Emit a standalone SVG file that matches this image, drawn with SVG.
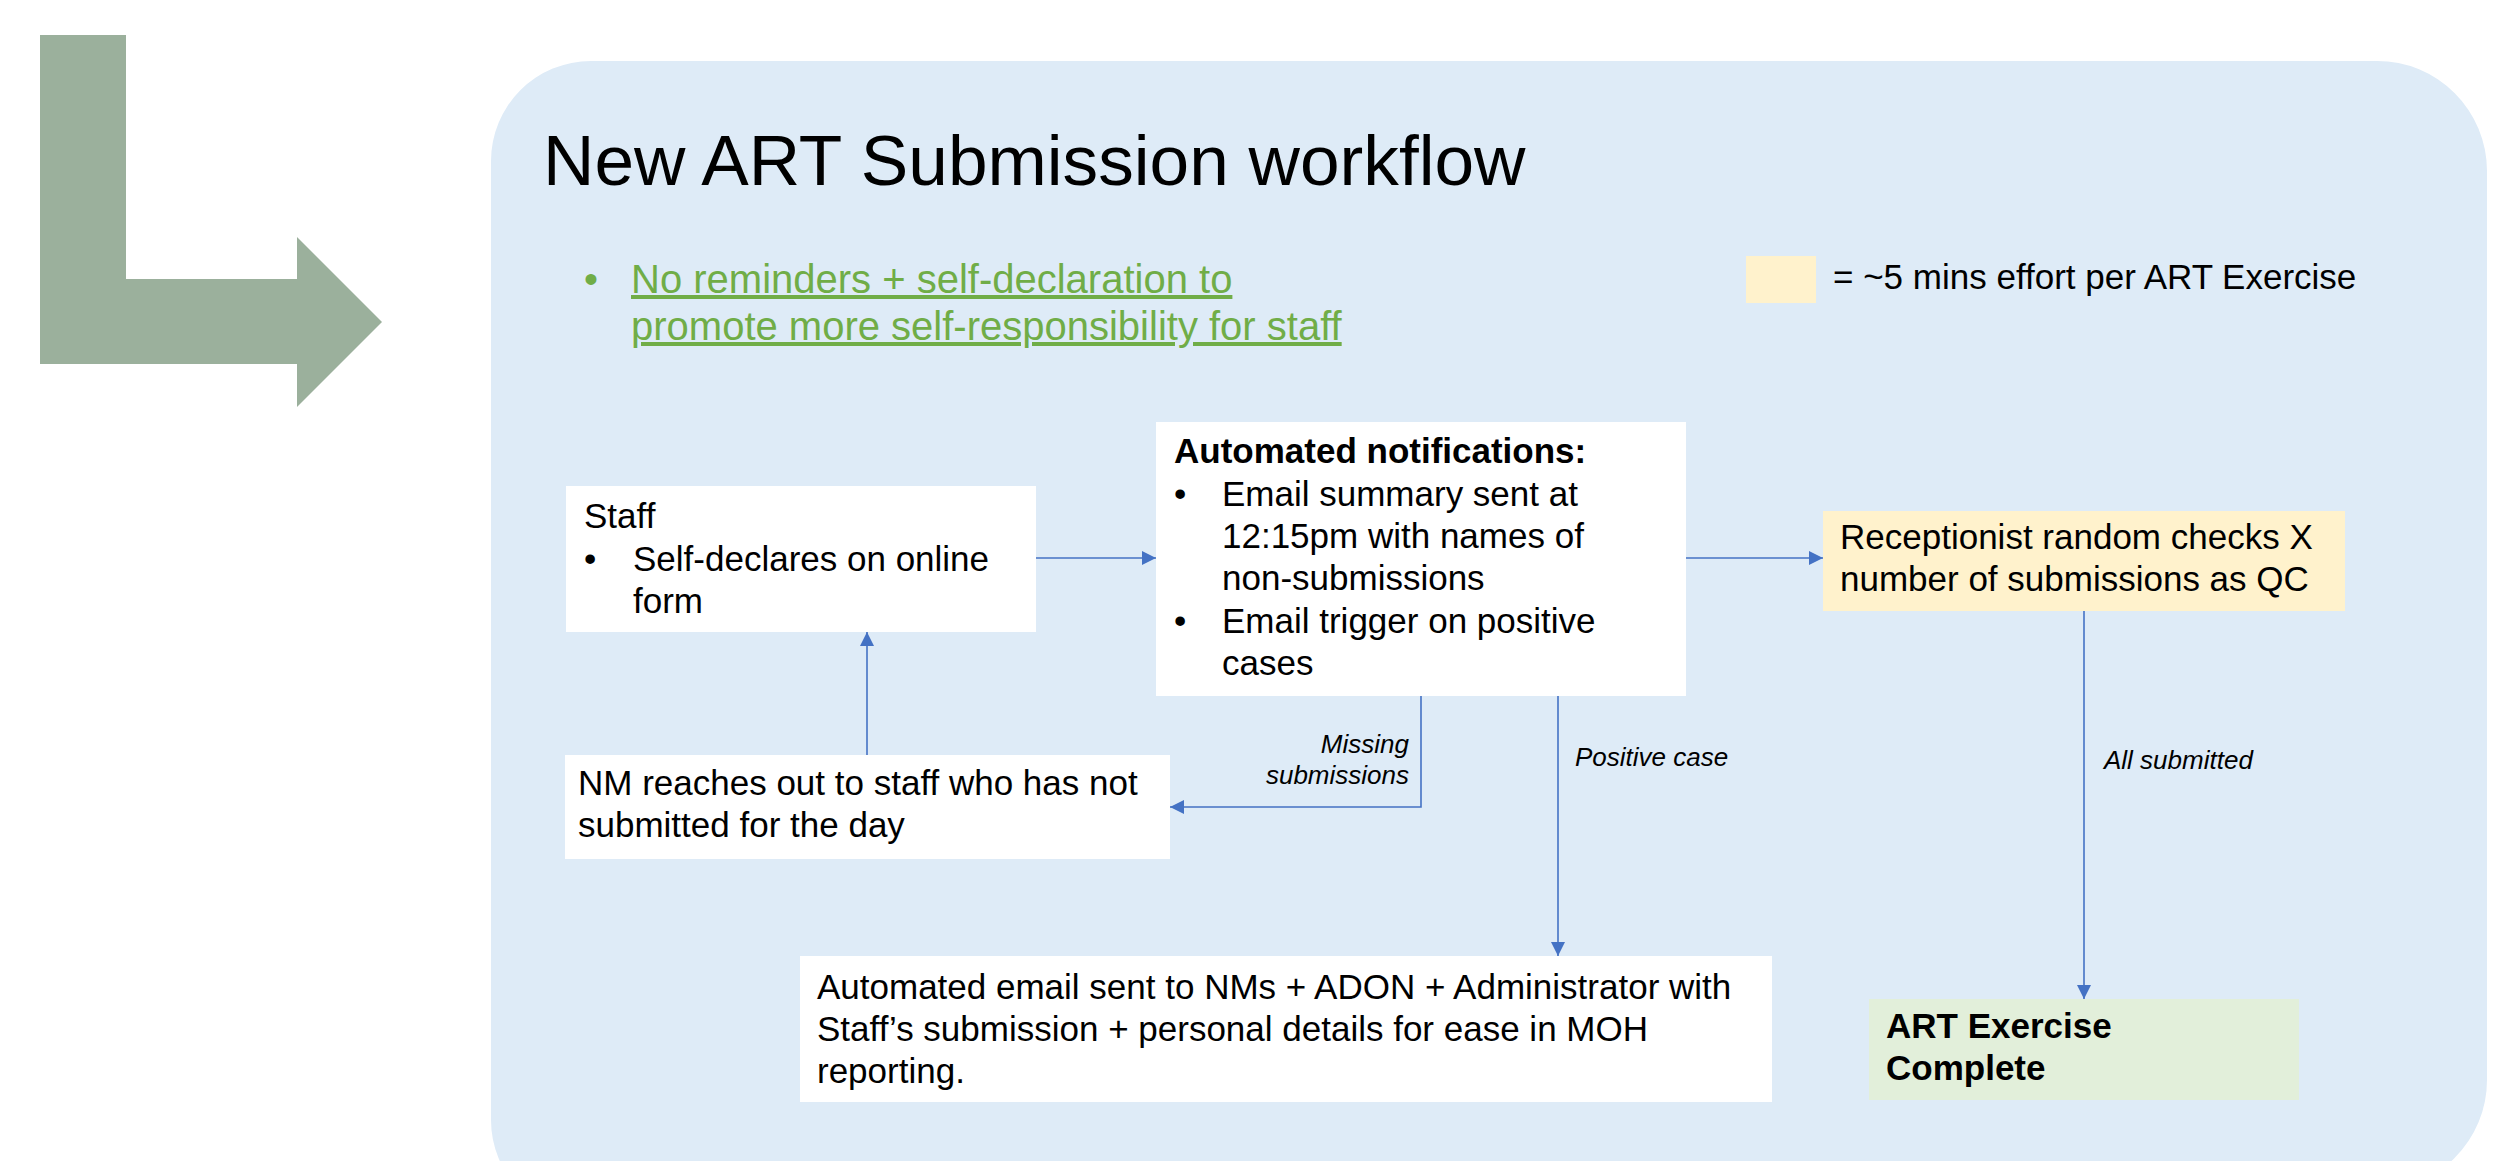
<svg xmlns="http://www.w3.org/2000/svg" width="2504" height="1161" viewBox="0 0 2504 1161">
  <style>
    text { font-family: "Liberation Sans", Arial, sans-serif; fill: #000; }
    .title { font-size: 71.2px; }
    .note { font-size: 40px; fill: #70AD47; }
    .body { font-size: 35px; }
    .bold { font-weight: bold; }
    .lbl { font-size: 26px; font-style: italic; }
    .box { fill: #FFFFFF; }
    .effort { fill: #FFF2CC; }
    .done { fill: #E2EFDA; }
    .conn { stroke: #4472C4; stroke-width: 1.6; fill: none; marker-end: url(#head); }
  </style>
  <defs>
    <marker id="head" viewBox="0 0 10 10" refX="10" refY="5" markerWidth="14" markerHeight="14" markerUnits="userSpaceOnUse" orient="auto">
      <path d="M0,0 L10,5 L0,10 Z" fill="#4472C4"/>
    </marker>
  </defs>

  <rect width="2504" height="1161" fill="#FFFFFF"/>

  <!-- bent arrow pointing into the panel -->
  <path id="bent-arrow" d="M40,35 H126 V279 H297 V237 L382,322 L297,407 V364 H40 Z" fill="#9BB09C"/>

  <!-- panel (runs off the bottom edge) -->
  <path id="panel" d="M591,61 H2377 A110,110 0 0 1 2487,171 V1080 A110,110 0 0 1 2377,1190 L591,1220 A100,100 0 0 1 491,1120 V161 A100,100 0 0 1 591,61 Z" fill="#DEEBF7"/>

  <text class="title" x="543" y="185">New ART Submission workflow</text>

  <g id="note">
    <text class="note" x="584" y="293">•</text>
    <text class="note" x="631" y="293" text-decoration="underline">No reminders + self-declaration to</text>
    <text class="note" x="631" y="340" text-decoration="underline">promote more self-responsibility for staff</text>
  </g>

  <g id="legend">
    <rect class="effort" x="1746" y="256" width="70" height="47"/>
    <text class="body" x="1833" y="289">= ~5 mins effort per ART Exercise</text>
  </g>

  <!-- connectors -->
  <g id="connectors">
    <line class="conn" x1="1036" y1="558" x2="1156" y2="558"/>
    <line class="conn" x1="1686" y1="558" x2="1823" y2="558"/>
    <polyline class="conn" points="1421,696 1421,807 1170,807"/>
    <line class="conn" x1="1558" y1="696" x2="1558" y2="956"/>
    <line class="conn" x1="867" y1="755" x2="867" y2="632"/>
    <line class="conn" x1="2084" y1="611" x2="2084" y2="999"/>
    <text class="lbl" x="1409" y="753" text-anchor="end">Missing</text>
    <text class="lbl" x="1409" y="784" text-anchor="end">submissions</text>
    <text class="lbl" x="1575" y="766">Positive case</text>
    <text class="lbl" x="2104" y="769">All submitted</text>
  </g>

  <g id="staff">
    <rect class="box" x="566" y="486" width="470" height="146"/>
    <text class="body" x="584" y="528">Staff</text>
    <text class="body" x="584" y="571">•</text>
    <text class="body" x="633" y="571">Self-declares on online</text>
    <text class="body" x="633" y="613">form</text>
  </g>

  <g id="notifications">
    <rect class="box" x="1156" y="422" width="530" height="274"/>
    <text class="body bold" x="1174" y="463">Automated notifications:</text>
    <text class="body" x="1174" y="506">•</text>
    <text class="body" x="1222" y="506">Email summary sent at</text>
    <text class="body" x="1222" y="548">12:15pm with names of</text>
    <text class="body" x="1222" y="590">non-submissions</text>
    <text class="body" x="1174" y="633">•</text>
    <text class="body" x="1222" y="633">Email trigger on positive</text>
    <text class="body" x="1222" y="675">cases</text>
  </g>

  <g id="receptionist">
    <rect class="effort" x="1823" y="511" width="522" height="100"/>
    <text class="body" x="1840" y="549">Receptionist random checks X</text>
    <text class="body" x="1840" y="591">number of submissions as QC</text>
  </g>

  <g id="nm-followup">
    <rect class="box" x="565" y="755" width="605" height="104"/>
    <text class="body" x="578" y="795">NM reaches out to staff who has not</text>
    <text class="body" x="578" y="837">submitted for the day</text>
  </g>

  <g id="positive-email">
    <rect class="box" x="800" y="956" width="972" height="146"/>
    <text class="body" x="817" y="999">Automated email sent to NMs + ADON + Administrator with</text>
    <text class="body" x="817" y="1041">Staff’s submission + personal details for ease in MOH</text>
    <text class="body" x="817" y="1083">reporting.</text>
  </g>

  <g id="complete">
    <rect class="done" x="1869" y="999" width="430" height="101"/>
    <text class="body bold" x="1886" y="1038">ART Exercise</text>
    <text class="body bold" x="1886" y="1080">Complete</text>
  </g>
</svg>
